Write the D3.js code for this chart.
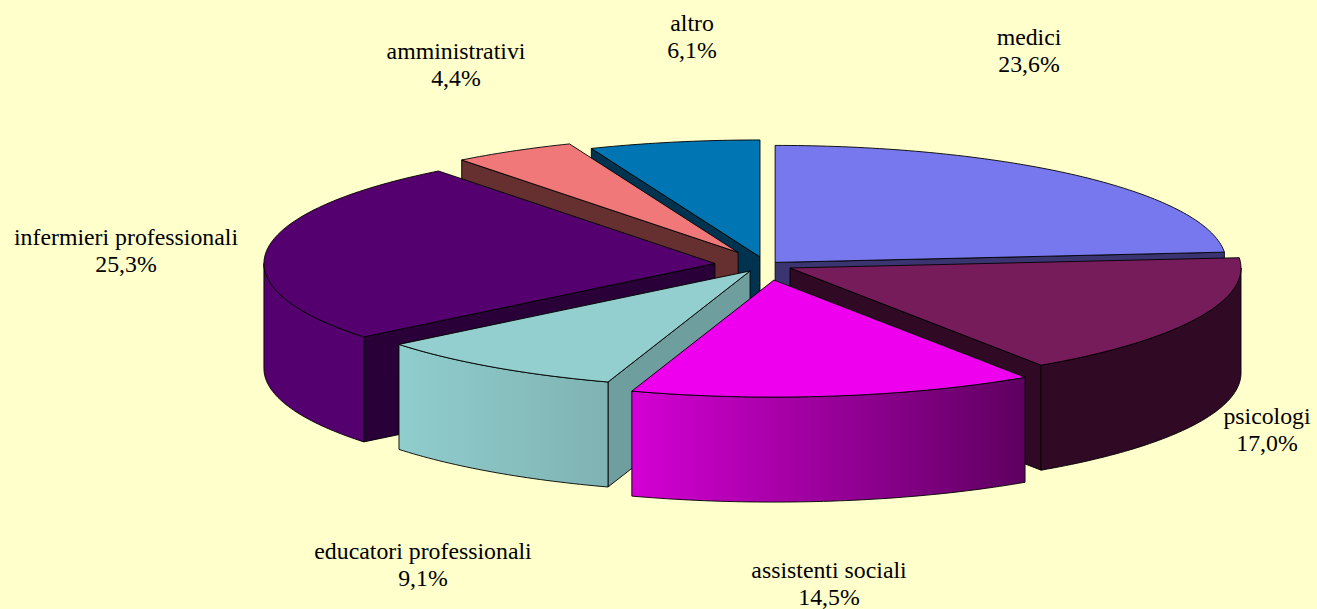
<!DOCTYPE html>
<html>
<head>
<meta charset="utf-8">
<script src="https://d3js.org/d3.v7.min.js"></script>
<style>
html, body {
	margin: 0;
	padding: 0;
	background-color: #ffffcc;
	overflow: hidden;
}
svg {
	display: block;
}
.label {
	font-family: "Liberation Serif", serif;
	font-size: 23.8px;
	fill: #000;
	text-anchor: middle;
}
</style>
</head>
<body>
<svg id="chart" width="1317" height="609"></svg>

<script>
  // values
  var categories = ["medici", "psicologi", "assistenti sociali", "educatori professionali",
                    "infermieri professionali", "amministrativi", "altro"];
  var shares = [23.6, 17.0, 14.5, 9.1, 25.3, 4.4, 6.1];

  // how far each slice is pulled out of the pie (fraction of the radius)
  var explosion = [0.03, 0.059, 0.13, 0.062, 0.114, 0.124, 0.07];

  // styling, same order as categories
  var topColors = ["#7878ee", "#771c5a", "#ee00ee", "#94cfcf", "#54006f", "#f07878", "#0075b3"];
  var edgeColors = ["#3a3570", "#300a25", "#780078", "#6f9e9e", "#2a0038", "#663030", "#003350"];
  var wallLeft = ["#7878ee", "#300a25", "#d400d4", "#90cdcd", "#54006f", "#f07878", "#0075b3"];
  var wallRight = ["#7878ee", "#300a25", "#5e0060", "#80b3b3", "#54006f", "#f07878", "#0075b3"];
  var labelCentres = [[1029, 44.7], [1267, 423.5], [829, 577.7], [423, 558.7], [126, 244.7], [456, 58.7], [692, 30.7]];

  // painter's order, back to front
  var drawOrder = [6, 5, 0, 4, 1, 3, 2];

  var cx = 766, cy = 265, rx = 451, ry = 117, depth = 105;

  var svg = d3.select("#chart");
  var defs = svg.append("defs");

  var pie = d3.pie().sort(null).value(function(d) { return d; });
  var slices = pie(shares);

  var line = d3.line().x(function(d) { return d[0]; }).y(function(d) { return d[1]; });

  var decimal = d3.format(".1f");

  function apex(d) {
  	var mid = (d.startAngle + d.endAngle) / 2;
  	var e = explosion[d.index];
  	return [cx + e * rx * Math.sin(mid), cy - e * ry * Math.cos(mid)];
  }

  function rim(c, a, drop) {
  	return [c[0] + rx * Math.sin(a), c[1] - ry * Math.cos(a) + (drop || 0)];
  }

  function arcPoints(c, a0, a1, drop) {
  	var n = Math.max(2, Math.ceil((a1 - a0) * 60));
  	return d3.range(n + 1).map(function(i) {
  		return rim(c, a0 + (a1 - a0) * i / n, drop);
  	});
  }

  function sideWall(c, a) {
  	var p = rim(c, a);
  	return line([c, p, [p[0], p[1] + depth], [c[0], c[1] + depth]]) + "Z";
  }

  var group = svg.selectAll(".slice")
  		.data(drawOrder.map(function(i) { return slices[i]; }))
  	.enter().append("g")
  		.attr("class", "slice");

  group.each(function(d) {
  	var g = d3.select(this);
  	var c = apex(d);

  	// straight cut faces, only the ones turned towards the viewer
  	var faces = [];
  	if (Math.sin(d.startAngle) < 0) faces.push(d.startAngle);
  	if (Math.sin(d.endAngle) > 0) faces.push(d.endAngle);
  	faces.forEach(function(a) {
  		g.append("path")
  			.attr("d", sideWall(c, a))
  			.attr("fill", edgeColors[d.index])
  			.attr("stroke", "#000")
  			.attr("stroke-width", 0.9)
  			.attr("stroke-linejoin", "round");
  	});

  	// curved outer wall, same thing
  	var a0 = Math.max(d.startAngle, Math.PI / 2);
  	var a1 = Math.min(d.endAngle, Math.PI * 1.5);
  	if (a1 > a0) {
  		var upper = arcPoints(c, a0, a1, 0);
  		var lower = arcPoints(c, a0, a1, depth).reverse();
  		var x0 = d3.min(upper, function(p) { return p[0]; });
  		var x1 = d3.max(upper, function(p) { return p[0]; });
  		var grad = defs.append("linearGradient")
  			.attr("id", "wall" + d.index)
  			.attr("gradientUnits", "userSpaceOnUse")
  			.attr("x1", x0).attr("x2", x1).attr("y1", 0).attr("y2", 0);
  		grad.append("stop").attr("offset", 0).attr("stop-color", wallLeft[d.index]);
  		grad.append("stop").attr("offset", 1).attr("stop-color", wallRight[d.index]);
  		g.append("path")
  			.attr("d", line(upper.concat(lower)) + "Z")
  			.attr("fill", "url(#wall" + d.index + ")")
  			.attr("stroke", "#000")
  			.attr("stroke-width", 0.9)
  			.attr("stroke-linejoin", "round");
  	}

  	// top face
  	g.append("path")
  		.attr("d", line([c].concat(arcPoints(c, d.startAngle, d.endAngle, 0))) + "Z")
  		.attr("fill", topColors[d.index])
  		.attr("stroke", "#000")
  		.attr("stroke-width", 0.9)
  		.attr("stroke-linejoin", "round");
  });

  var labels = svg.selectAll(".label")
  		.data(categories)
  	.enter().append("text")
  		.attr("class", "label")
  		.attr("transform", function(d, i) {
  			return "translate(" + labelCentres[i][0] + "," + labelCentres[i][1] + ")";
  		});

  labels.append("tspan")
  	.attr("x", 0)
  	.attr("y", 0)
  	.text(function(d) { return d; });

  labels.append("tspan")
  	.attr("x", 0)
  	.attr("y", 27)
  	.text(function(d, i) { return decimal(shares[i]).replace(".", ",") + "%"; });
</script>
</body>
</html>
